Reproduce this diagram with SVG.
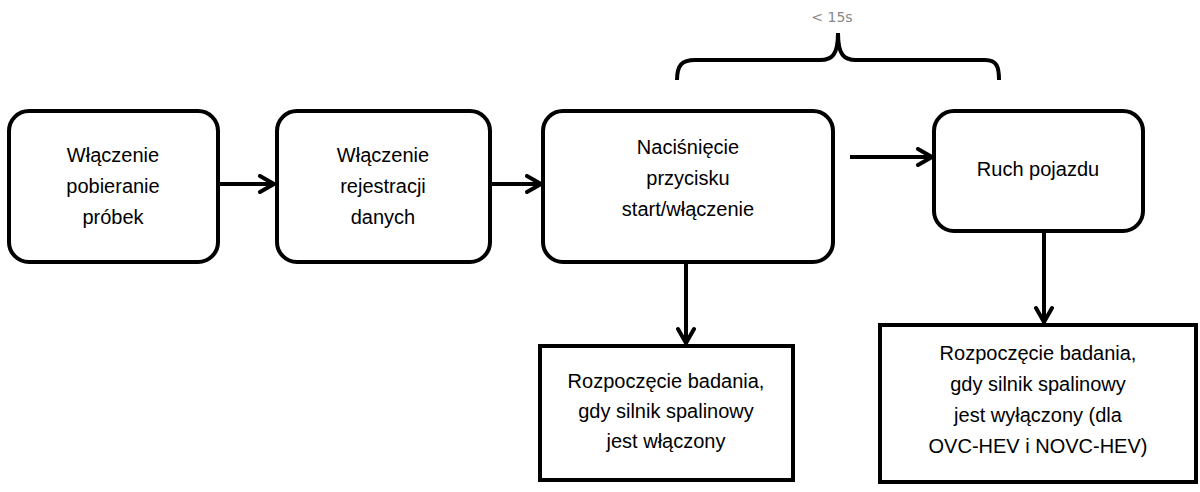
<svg xmlns="http://www.w3.org/2000/svg" width="1200" height="492" viewBox="0 0 1200 492">
<style>
.b{fill:#fff;stroke:#000;stroke-width:4}
.t{font-family:"Liberation Sans",Arial,sans-serif;font-size:20px;fill:#000;text-anchor:middle}
.c{stroke:#000;stroke-width:4;fill:none}
</style>
<defs>
<marker id="a" viewBox="0 0 10 10" refX="9" refY="5" markerWidth="5" markerHeight="5" orient="auto" markerUnits="strokeWidth">
<path d="M2,1 L9,5 L2,9" fill="none" stroke="#000" stroke-width="2" stroke-linecap="round" stroke-linejoin="round"/>
</marker>
</defs>
<rect width="1200" height="492" fill="#fff"/>
<g id="n1"><rect class="b" x="9" y="111" width="209" height="151" rx="20"/><text class="t" x="113" y="162">Włączenie</text><text class="t" x="113" y="193">pobieranie</text><text class="t" x="113" y="224">próbek</text></g>
<g id="n2"><rect class="b" x="277" y="111" width="213" height="151" rx="20"/><text class="t" x="383" y="162">Włączenie</text><text class="t" x="383" y="193">rejestracji</text><text class="t" x="383" y="224">danych</text></g>
<g id="n3"><rect class="b" x="543" y="111" width="290" height="151" rx="20"/><text class="t" x="688" y="154">Naciśnięcie</text><text class="t" x="688" y="185">przycisku</text><text class="t" x="688" y="216">start/włączenie</text></g>
<g id="n4"><rect class="b" x="934" y="111" width="209" height="120" rx="20"/><text class="t" x="1038" y="176">Ruch pojazdu</text></g>
<g id="n5"><rect class="b" x="540" y="346" width="253" height="134"/><text class="t" x="666" y="388">Rozpoczęcie badania,</text><text class="t" x="666" y="418">gdy silnik spalinowy</text><text class="t" x="666" y="448">jest włączony</text></g>
<g id="n6"><rect class="b" x="880" y="325" width="316" height="157"/><text class="t" x="1038" y="360">Rozpoczęcie badania,</text><text class="t" x="1038" y="391">gdy silnik spalinowy</text><text class="t" x="1038" y="422">jest wyłączony (dla</text><text class="t" x="1038" y="453">OVC-HEV i NOVC-HEV)</text></g>
<g id="connectors">
<line class="c" x1="220" y1="184" x2="274" y2="184" marker-end="url(#a)"/>
<line class="c" x1="490" y1="184" x2="541" y2="184" marker-end="url(#a)"/>
<line class="c" x1="850" y1="157" x2="932" y2="157" marker-end="url(#a)"/>
<line class="c" x1="686" y1="262" x2="686" y2="343" marker-end="url(#a)"/>
<line class="c" x1="1044" y1="231" x2="1044" y2="322" marker-end="url(#a)"/>
<path class="c" d="M677,80 C677,65 682,60 695,60 L820,60 C832,60 838,55 838,33 C838,55 844,60 856,60 L985,60 C997,60 999,67 999,80"/>
<text x="832" y="22" style="font-family:'DejaVu Sans',sans-serif;font-size:14px;fill:#888;text-anchor:middle">&lt; 15s</text>
</g>
</svg>
